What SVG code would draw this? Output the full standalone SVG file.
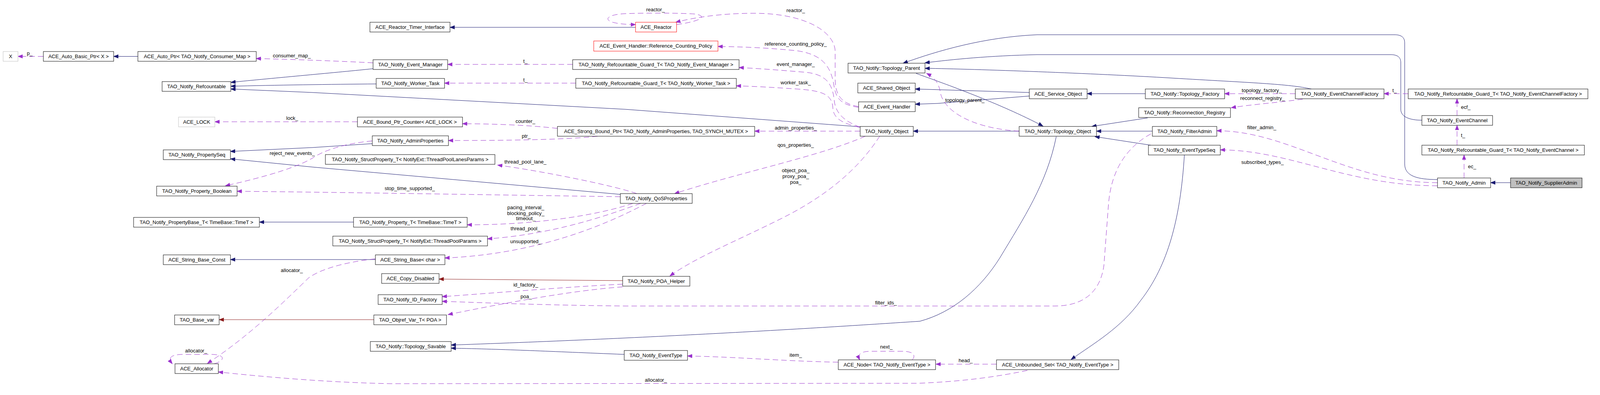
<svg xmlns="http://www.w3.org/2000/svg" width="5331" height="1012" viewBox="0 0 5331 1012">
<style>
.n rect{fill:#fff;stroke:#000;stroke-width:1}
.n.g rect{stroke:#bfbfbf}
.n.r rect{stroke:#ff0000}
.n.s rect{fill:#bfbfbf}
text{font-family:"Liberation Sans",Arial,sans-serif;font-size:13px;fill:#000}
.n text{text-anchor:middle}
.lbl{text-anchor:middle}
.lbs{text-anchor:start}
.inh{fill:none;stroke:#191970;stroke-width:1;marker-end:url(#an)}
.use{fill:none;stroke:#9a32cd;stroke-width:1;stroke-dasharray:14,8;marker-end:url(#ap)}
.prot{fill:none;stroke:#8b1a1a;stroke-width:1;marker-end:url(#ar)}
</style>
<defs>
<marker id="an" markerWidth="14" markerHeight="11" refX="12" refY="5" orient="auto" markerUnits="userSpaceOnUse"><path d="M0,0.5 L12,5 L0,9.5 z" fill="#191970" stroke="#191970"/></marker>
<marker id="ap" markerWidth="14" markerHeight="11" refX="12" refY="5" orient="auto" markerUnits="userSpaceOnUse"><path d="M0,0.5 L12,5 L0,9.5 z" fill="#9a32cd" stroke="#9a32cd"/></marker>
<marker id="ar" markerWidth="14" markerHeight="11" refX="12" refY="5" orient="auto" markerUnits="userSpaceOnUse"><path d="M0,0.5 L12,5 L0,9.5 z" fill="#8b1a1a" stroke="#8b1a1a"/></marker>
</defs>
<rect x="0" y="0" width="5331" height="1012" fill="#fff"/>
<g id="connectors">
<path class="inh" d="M353,144.5 L291,144.5"/>
<path class="inh" d="M955,176 C870,185 700,200 591,211"/>
<path class="inh" d="M963,215 C850,216 700,218 591,221"/>
<path class="inh" d="M2204,325 L1600,280 L800,237 L591,228"/>
<path class="inh" d="M1627,70 L1152,70"/>
<path class="inh" d="M953,368 L800,378 L590,388"/>
<path class="inh" d="M1588,498 L800,428 L590,407"/>
<path class="inh" d="M905,569 L664,569"/>
<path class="inh" d="M961,665 L590,665"/>
<path class="inh" d="M2704,350 C2680,470 2620,560 2560,660 C2510,740 2440,800 2355,823 C2100,840 1700,865 1155,884"/>
<path class="inh" d="M1598,908 C1400,900 1300,895 1155,892"/>
<path class="inh" d="M2345,188 C2420,215 2560,265 2670,323"/>
<path class="inh" d="M2635,237 L2343,228"/>
<path class="inh" d="M2635,246 L2400,265 L2343,267"/>
<path class="inh" d="M2609,336 L2338,336"/>
<path class="inh" d="M2932,240 L2783,240"/>
<path class="inh" d="M2938,302 L2795,324"/>
<path class="inh" d="M2950,336 L2807,336"/>
<path class="inh" d="M2946,372 L2803,350"/>
<path class="inh" d="M3032,397 C3022,560 2990,680 2920,770 C2870,840 2800,880 2742,921"/>
<path class="inh" d="M3680,460 C3630,460 3596,452 3596,420 L3596,110 C3596,96 3588,89 3570,89 L2655,89 C2520,95 2400,130 2312,162"/>
<path class="inh" d="M3640,308 C3610,308 3586,300 3586,280 L3586,160 C3586,147 3578,140 3560,140 L2655,140 C2530,143 2440,152 2368,161"/>
<path class="inh" d="M3357,228 C3300,215 3200,212 3000,200 C2800,188 2500,177 2368,175"/>
<path class="inh" d="M3867,468 L3816,468"/>
<path class="prot" d="M957,819 L561,819"/>
<path class="prot" d="M1594,719 L1350,717 L1124,715"/>
<path class="use" d="M111,144.5 L46,144.5"/>
<path class="use" d="M955,161 C880,157 750,152 656,150"/>
<path class="use" d="M1466,165 L1146,165"/>
<path class="use" d="M1474,213 L1138,213"/>
<path class="use" d="M915,312 L550,312"/>
<path class="use" d="M1427,329 C1350,320 1250,317 1184,317"/>
<path class="use" d="M1530,349 C1450,358 1300,360 1148,360"/>
<path class="use" d="M953,361 C880,368 830,385 800,405 C750,435 640,462 577,476"/>
<path class="use" d="M1588,504 C1300,500 900,493 607,490"/>
<path class="use" d="M1630,496 C1580,478 1400,440 1274,423"/>
<path class="use" d="M1620,521 C1550,545 1400,576 1196,576"/>
<path class="use" d="M1640,521 C1560,550 1420,600 1248,612"/>
<path class="use" d="M1655,521 C1580,560 1400,650 1139,661"/>
<path class="use" d="M961,663 C880,672 820,690 790,712 C730,770 640,860 531,931"/>
<path class="use" d="M548,932 C575,925 580,908 540,908 L470,908 C435,908 430,918 441,932"/>
<path class="use" d="M2630,949 C2540,968 2450,978 2350,982 L1000,983 C850,980 700,968 559,953"/>
<path class="use" d="M2146,928 C2000,925 1900,915 1760,912"/>
<path class="use" d="M2335,922 C2345,912 2340,900 2310,900 L2230,900 C2200,900 2195,910 2201,922"/>
<path class="use" d="M2551,933 L2396,933"/>
<path class="use" d="M2946,343 C2880,380 2845,440 2838,520 L2826,680 C2815,760 2760,784 2700,784 L1600,784 C1400,782 1250,776 1132,772"/>
<path class="use" d="M1594,728 C1450,735 1250,752 1132,760"/>
<path class="use" d="M1594,735 C1450,745 1250,785 1147,806"/>
<path class="use" d="M2252,349 C2200,430 2120,500 2000,560 C1880,620 1780,660 1715,707"/>
<path class="use" d="M2215,349 C2100,400 1900,440 1727,496"/>
<path class="use" d="M2202,336 L1932,336"/>
<path class="use" d="M2202,326 C2160,310 2140,290 2136,260 C2132,220 2120,190 2060,185 C2000,180 1950,176 1892,173"/>
<path class="use" d="M2200,326 C2150,315 2133,300 2132,275 C2130,240 2100,232 2040,228 C1980,224 1930,221 1885,220"/>
<path class="use" d="M2198,273 C2150,265 2138,240 2138,200 L2138,130 C2135,80 2060,34 1930,34 C1850,34 1780,44 1730,57"/>
<path class="use" d="M2198,275 C2150,268 2140,250 2135,220 C2128,175 2110,140 2040,130 C1960,122 1900,120 1838,119"/>
<path class="use" d="M1732,63 C1790,55 1815,42 1780,36 C1740,33 1650,33 1600,35 C1560,37 1545,48 1565,56 C1580,61 1605,63 1627,63"/>
<path class="use" d="M2609,336 C2500,330 2420,290 2408,240 C2404,215 2395,200 2372,188"/>
<path class="use" d="M3316,240 L3135,240"/>
<path class="use" d="M3335,254 C3280,262 3200,268 3152,276"/>
<path class="use" d="M3605,240 L3543,240"/>
<path class="use" d="M3730,296 L3730,253"/>
<path class="use" d="M3730,372 L3730,321"/>
<path class="use" d="M3748,456 L3748,397"/>
<path class="use" d="M3680,468 C3450,468 3300,335 3115,335"/>
<path class="use" d="M3680,476 C3450,476 3300,384 3124,384"/>
<text class="lbl" x="76" y="141">p_</text>
<text class="lbl" x="747" y="147">consumer_map_</text>
<text class="lbl" x="1345" y="161">t_</text>
<text class="lbl" x="1345" y="209">t_</text>
<text class="lbl" x="748" y="307">lock_</text>
<text class="lbl" x="1345" y="315">counter_</text>
<text class="lbl" x="1347" y="353">ptr_</text>
<text class="lbl" x="748" y="397">reject_new_events_</text>
<text class="lbl" x="1049" y="487">stop_time_supported_</text>
<text class="lbl" x="1345" y="419">thread_pool_lane_</text>
<text class="lbl" x="1346" y="536">pacing_interval_</text>
<text class="lbl" x="1346" y="551">blocking_policy_</text>
<text class="lbl" x="1346" y="564">timeout_</text>
<text class="lbl" x="1345" y="590">thread_pool_</text>
<text class="lbl" x="1346" y="623">unsupported_</text>
<text class="lbl" x="747" y="697">allocator_</text>
<text class="lbl" x="502" y="903">allocator_</text>
<text class="lbl" x="1679" y="978">allocator_</text>
<text class="lbl" x="2037" y="914">item_</text>
<text class="lbl" x="2269" y="893">next_</text>
<text class="lbl" x="2472" y="928">head_</text>
<text class="lbl" x="2268" y="780">filter_ids_</text>
<text class="lbl" x="1346" y="734">id_factory_</text>
<text class="lbl" x="1347" y="764">poa_</text>
<text class="lbl" x="2037" y="441">object_poa_</text>
<text class="lbl" x="2037" y="456">proxy_poa_</text>
<text class="lbl" x="2037" y="471">poa_</text>
<text class="lbl" x="2037" y="376">qos_properties_</text>
<text class="lbl" x="2037" y="332">admin_properties_</text>
<text class="lbl" x="2037" y="169">event_manager_</text>
<text class="lbl" x="2037" y="216">worker_task_</text>
<text class="lbl" x="2037" y="31">reactor_</text>
<text class="lbl" x="2037" y="117">reference_counting_policy_</text>
<text class="lbl" x="1678" y="29">reactor_</text>
<text class="lbl" x="2470" y="261">topology_parent_</text>
<text class="lbl" x="3230" y="236">topology_factory_</text>
<text class="lbl" x="3232" y="256">reconnect_registry_</text>
<text class="lbl" x="3570" y="236">t_</text>
<text class="lbs" x="3740" y="279">ecf_</text>
<text class="lbs" x="3740" y="351">t_</text>
<text class="lbs" x="3758" y="431">ec_</text>
<text class="lbl" x="3230" y="331">filter_admin_</text>
<text class="lbl" x="3232" y="420">subscribed_types_</text>
</g>
<g id="n_x" class="n g"><rect x="8" y="132" width="38" height="25"/><text x="27" y="149">X</text></g>
<g id="n_autobasic" class="n"><rect x="111" y="132" width="180" height="25"/><text x="201" y="149">ACE_Auto_Basic_Ptr&lt; X &gt;</text></g>
<g id="n_autoptr" class="n"><rect x="353" y="132" width="303" height="25"/><text x="504.5" y="149">ACE_Auto_Ptr&lt; TAO_Notify_Consumer_Map &gt;</text></g>
<g id="n_refcountable" class="n"><rect x="415" y="209" width="176" height="25"/><text x="503" y="226">TAO_Notify_Refcountable</text></g>
<g id="n_acelock" class="n g"><rect x="457" y="300" width="93" height="25"/><text x="503.5" y="317">ACE_LOCK</text></g>
<g id="n_propseq" class="n"><rect x="418" y="384" width="172" height="25"/><text x="504" y="401">TAO_Notify_PropertySeq</text></g>
<g id="n_propbool" class="n"><rect x="401" y="477" width="206" height="25"/><text x="504" y="494">TAO_Notify_Property_Boolean</text></g>
<g id="n_propbase" class="n"><rect x="342" y="557" width="322" height="25"/><text x="503" y="574">TAO_Notify_PropertyBase_T&lt; TimeBase::TimeT &gt;</text></g>
<g id="n_strbaseconst" class="n"><rect x="418" y="653" width="172" height="25"/><text x="504" y="670">ACE_String_Base_Const</text></g>
<g id="n_basevar" class="n"><rect x="447" y="807" width="114" height="25"/><text x="504" y="824">TAO_Base_var</text></g>
<g id="n_allocator" class="n"><rect x="448" y="932" width="111" height="25"/><text x="503.5" y="949">ACE_Allocator</text></g>
<g id="n_rti" class="n"><rect x="947" y="57" width="205" height="25"/><text x="1049.5" y="74">ACE_Reactor_Timer_Interface</text></g>
<g id="n_rcp" class="n r"><rect x="1520" y="105" width="318" height="26"/><text x="1679" y="122">ACE_Event_Handler::Reference_Counting_Policy</text></g>
<g id="n_evmgr" class="n"><rect x="955" y="153" width="191" height="25"/><text x="1050.5" y="170">TAO_Notify_Event_Manager</text></g>
<g id="n_worker" class="n"><rect x="963" y="201" width="175" height="25"/><text x="1050.5" y="218">TAO_Notify_Worker_Task</text></g>
<g id="n_bpc" class="n"><rect x="915" y="300" width="269" height="25"/><text x="1049.5" y="317">ACE_Bound_Ptr_Counter&lt; ACE_LOCK &gt;</text></g>
<g id="n_adminprops" class="n"><rect x="953" y="348" width="195" height="25"/><text x="1050.5" y="365">TAO_Notify_AdminProperties</text></g>
<g id="n_spl" class="n"><rect x="833" y="396" width="434" height="25"/><text x="1050" y="413">TAO_Notify_StructProperty_T&lt; NotifyExt::ThreadPoolLanesParams &gt;</text></g>
<g id="n_propt" class="n"><rect x="905" y="557" width="291" height="25"/><text x="1050.5" y="574">TAO_Notify_Property_T&lt; TimeBase::TimeT &gt;</text></g>
<g id="n_spp" class="n"><rect x="852" y="605" width="396" height="25"/><text x="1050" y="622">TAO_Notify_StructProperty_T&lt; NotifyExt::ThreadPoolParams &gt;</text></g>
<g id="n_strbase" class="n"><rect x="961" y="653" width="178" height="25"/><text x="1050" y="670">ACE_String_Base&lt; char &gt;</text></g>
<g id="n_copydis" class="n"><rect x="977" y="701" width="147" height="25"/><text x="1050.5" y="718">ACE_Copy_Disabled</text></g>
<g id="n_idf" class="n"><rect x="968" y="755" width="164" height="25"/><text x="1050" y="772">TAO_Notify_ID_Factory</text></g>
<g id="n_objref" class="n"><rect x="957" y="807" width="186" height="25"/><text x="1050" y="824">TAO_Objref_Var_T&lt; POA &gt;</text></g>
<g id="n_savable" class="n"><rect x="948" y="875" width="207" height="25"/><text x="1051.5" y="892">TAO_Notify::Topology_Savable</text></g>
<g id="n_reactor" class="n r"><rect x="1627" y="57" width="105" height="25"/><text x="1679.5" y="74">ACE_Reactor</text></g>
<g id="n_gem" class="n"><rect x="1466" y="153" width="426" height="25"/><text x="1679" y="170">TAO_Notify_Refcountable_Guard_T&lt; TAO_Notify_Event_Manager &gt;</text></g>
<g id="n_gwt" class="n"><rect x="1474" y="201" width="411" height="25"/><text x="1679.5" y="218">TAO_Notify_Refcountable_Guard_T&lt; TAO_Notify_Worker_Task &gt;</text></g>
<g id="n_sbp" class="n"><rect x="1427" y="324" width="505" height="25"/><text x="1679.5" y="341">ACE_Strong_Bound_Ptr&lt; TAO_Notify_AdminProperties, TAO_SYNCH_MUTEX &gt;</text></g>
<g id="n_qos" class="n"><rect x="1588" y="496" width="184" height="25"/><text x="1680" y="513">TAO_Notify_QoSProperties</text></g>
<g id="n_poah" class="n"><rect x="1594" y="708" width="172" height="25"/><text x="1680" y="725">TAO_Notify_POA_Helper</text></g>
<g id="n_evtype" class="n"><rect x="1598" y="898" width="162" height="25"/><text x="1679" y="915">TAO_Notify_EventType</text></g>
<g id="n_node" class="n"><rect x="2146" y="922" width="249" height="25"/><text x="2270.5" y="939">ACE_Node&lt; TAO_Notify_EventType &gt;</text></g>
<g id="n_tparent" class="n"><rect x="2171" y="162" width="197" height="25"/><text x="2269.5" y="179">TAO_Notify::Topology_Parent</text></g>
<g id="n_shared" class="n"><rect x="2196" y="213" width="147" height="25"/><text x="2269.5" y="230">ACE_Shared_Object</text></g>
<g id="n_evh" class="n"><rect x="2198" y="261" width="145" height="25"/><text x="2270.5" y="278">ACE_Event_Handler</text></g>
<g id="n_object" class="n"><rect x="2202" y="324" width="136" height="25"/><text x="2270" y="341">TAO_Notify_Object</text></g>
<g id="n_svc" class="n"><rect x="2635" y="228" width="148" height="25"/><text x="2709" y="245">ACE_Service_Object</text></g>
<g id="n_tobject" class="n"><rect x="2609" y="324" width="198" height="25"/><text x="2708" y="341">TAO_Notify::Topology_Object</text></g>
<g id="n_tfactory" class="n"><rect x="2932" y="228" width="203" height="25"/><text x="3033.5" y="245">TAO_Notify::Topology_Factory</text></g>
<g id="n_reconn" class="n"><rect x="2915" y="276" width="235" height="25"/><text x="3032.5" y="293">TAO_Notify::Reconnection_Registry</text></g>
<g id="n_filteradmin" class="n"><rect x="2950" y="324" width="165" height="25"/><text x="3032.5" y="341">TAO_Notify_FilterAdmin</text></g>
<g id="n_etseq" class="n"><rect x="2940" y="372" width="184" height="25"/><text x="3032" y="389">TAO_Notify_EventTypeSeq</text></g>
<g id="n_uset" class="n"><rect x="2551" y="922" width="313" height="25"/><text x="2707.5" y="939">ACE_Unbounded_Set&lt; TAO_Notify_EventType &gt;</text></g>
<g id="n_ecf" class="n"><rect x="3316" y="228" width="227" height="25"/><text x="3429.5" y="245">TAO_Notify_EventChannelFactory</text></g>
<g id="n_gecf" class="n"><rect x="3605" y="228" width="460" height="25"/><text x="3835" y="245">TAO_Notify_Refcountable_Guard_T&lt; TAO_Notify_EventChannelFactory &gt;</text></g>
<g id="n_ec" class="n"><rect x="3640" y="296" width="181" height="25"/><text x="3730.5" y="313">TAO_Notify_EventChannel</text></g>
<g id="n_gec" class="n"><rect x="3640" y="372" width="416" height="25"/><text x="3848" y="389">TAO_Notify_Refcountable_Guard_T&lt; TAO_Notify_EventChannel &gt;</text></g>
<g id="n_admin" class="n"><rect x="3680" y="456" width="136" height="25"/><text x="3748" y="473">TAO_Notify_Admin</text></g>
<g id="n_supplier" class="n s"><rect x="3867" y="456" width="183" height="25"/><text x="3958.5" y="473">TAO_Notify_SupplierAdmin</text></g>
</svg>
